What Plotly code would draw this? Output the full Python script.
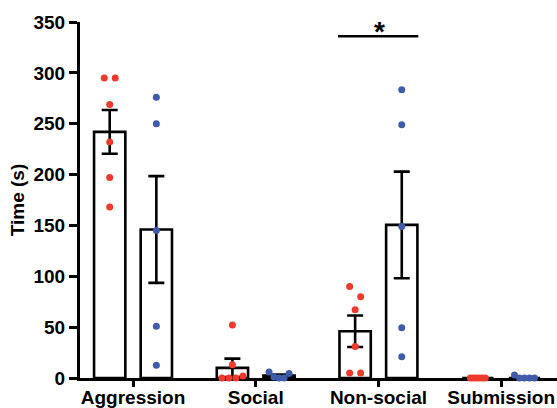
import plotly.graph_objects as go

categories = ["Aggression", "Social", "Non-social", "Submission"]

red_mean = [242, 10, 46, 0]
red_sem = [21.5, 9, 15.5, 0]
blue_mean = [146, 2.3, 150.5, 0]
blue_sem = [52.5, 1.2, 52.4, 0]

# individual points
red_points = [
    [295, 295, 269, 232, 197, 168],
    [52, 13, 0, 0, 0, 2],
    [90, 80, 67, 31, 5, 5],
    [0, 0, 0, 0, 0, 0],
]
blue_points = [
    [276, 250, 145, 51, 12.5],
    [6, 1, 0, 0, 4.5],
    [283.5, 249, 149, 49.5, 21],
    [3, 0, 0, 0, 0],
]

y_ticks = [0, 50, 100, 150, 200, 250, 300, 350]
sig_label = "*"

RED = "#EE3A2C"
BLUE = "#3F5BAA"
OFFSET = 0.19
BAR_W = 0.255
PX_PER_X = 122.7  # pixels per category unit


def spread(values):
    """GraphPad-like scatter: group close values and spread them in a row."""
    order = sorted(range(len(values)), key=lambda i: values[i])
    clusters, cur = [], [order[0]]
    for a, b in zip(order, order[1:]):
        if values[b] - values[a] <= 10:
            cur.append(b)
        else:
            clusters.append(cur)
            cur = [b]
    clusters.append(cur)
    offs = [0.0] * len(values)
    for c in clusters:
        c = sorted(c)  # data order, left to right
        n = len(c)
        if n == 1:
            continue
        sp = max(15 - 2 * n, 2.5) / PX_PER_X
        for k, i in enumerate(c):
            offs[i] = (k - (n - 1) / 2) * sp
    return offs


fig = go.Figure()

xr = [i - OFFSET for i in range(len(categories))]
xb = [i + OFFSET for i in range(len(categories))]

for xs, means, sems in ((xr, red_mean, red_sem), (xb, blue_mean, blue_sem)):
    fig.add_trace(go.Bar(
        x=xs, y=means, width=BAR_W,
        marker=dict(color="white", line=dict(color="black", width=2.6)),
        error_y=dict(type="data", array=sems, visible=True, color="black",
                     thickness=2.6, width=8),
        showlegend=False, hoverinfo="skip",
    ))

for xs, pts, col in ((xr, red_points, RED), (xb, blue_points, BLUE)):
    px, py = [], []
    for xc, vals in zip(xs, pts):
        for o, v in zip(spread(vals), vals):
            px.append(xc + o)
            py.append(v)
    fig.add_trace(go.Scatter(
        x=px, y=py, mode="markers",
        marker=dict(color=col, size=7, line=dict(width=0)),
        cliponaxis=False, showlegend=False,
    ))

# significance bar over Non-social
fig.add_shape(type="line", x0=2 - 0.33, x1=2 + 0.325, y0=336, y1=336,
              line=dict(color="black", width=2.6))
fig.add_annotation(x=2.01, y=336, text=sig_label, showarrow=False,
                   yanchor="bottom", yshift=-13,
                   font=dict(size=28, color="black", family="Liberation Sans", weight="bold"))

axis_font = dict(family="Liberation Sans, Arial, sans-serif", size=19, color="black", weight="bold")

fig.update_layout(
    width=557, height=408,
    margin=dict(l=80, r=0, t=22, b=30, autoexpand=False),
    plot_bgcolor="white", paper_bgcolor="white",
    barmode="overlay",
    xaxis=dict(
        range=[-0.432, 3.455], tickmode="array",
        tickvals=list(range(len(categories))), ticktext=categories,
        showline=True, linecolor="black", linewidth=3,
        ticks="outside", ticklen=6, tickwidth=3, tickcolor="black",
        ticklabelstandoff=-6, ticklabeloverflow="allow",
        showgrid=False, zeroline=False, tickfont=axis_font,
        layer="below traces", automargin=False,
    ),
    yaxis=dict(
        range=[0, 350], tickmode="array", tickvals=y_ticks,
        showline=True, linecolor="black", linewidth=3,
        ticks="outside", ticklen=8, tickwidth=3, tickcolor="black",
        showgrid=False, zeroline=False, tickfont=axis_font,
        title=dict(text="Time (s)", font=dict(family="Liberation Sans, Arial, sans-serif",
                                               size=19, color="black", weight="bold"),
                   standoff=4),
        layer="below traces", automargin=False,
    ),
)

fig.write_html(
    "out.html",
    config={"displayModeBar": False},
    post_script="document.body.style.margin='0';document.body.style.overflow='hidden';",
)
